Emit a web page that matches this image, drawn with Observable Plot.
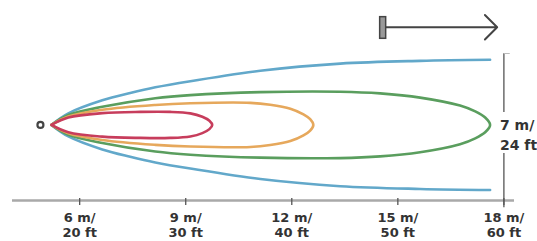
<!DOCTYPE html>
<html><head><meta charset="utf-8">
<script src="https://cdn.jsdelivr.net/npm/d3@7"></script>
<script src="https://cdn.jsdelivr.net/npm/@observablehq/plot@0.6"></script>
<style>body{margin:0;background:#fff}</style>
</head><body><div id="chart"></div>
<script>
// distance along the beam (m) and half-width of each beam outline (m)
const redX    = [5.20, 5.68, 6.64, 7.72, 8.56, 9.13, 9.47, 9.67, 9.75];
const redW    = [0, 0.35, 0.56, 0.62, 0.62, 0.55, 0.39, 0.20, 0];
const orangeX = [5.20, 5.68, 6.64, 8.14, 9.13, 10.83, 11.39, 11.96, 12.33, 12.52, 12.61];
const orangeW = [0, 0.40, 0.72, 0.95, 1.03, 1.05, 0.96, 0.77, 0.50, 0.27, 0];
const greenX  = [5.20, 5.68, 6.64, 8.14, 9.13, 11.11, 13.37, 14.50, 15.63, 16.76, 17.19, 17.47, 17.61];
const greenW  = [0, 0.47, 0.86, 1.27, 1.42, 1.56, 1.58, 1.50, 1.30, 0.92, 0.64, 0.35, 0];
const blueX   = [5.20, 5.68, 6.64, 7.43, 8.14, 9.13, 11.11, 13.37, 15.63, 17.61];
const blueW   = [0, 0.55, 1.17, 1.52, 1.79, 2.08, 2.58, 2.92, 3.05, 3.10];
const sourceX = 4.89;

const tickValues = [6, 9, 12, 15, 18];
const tickLabels = ["6 m/\n20 ft", "9 m/\n30 ft", "12 m/\n40 ft", "15 m/\n50 ft", "18 m/\n60 ft"];
const widthLabel = "7 m/\n24 ft";

const colors = {red: "#c73d5c", orange: "#e6a85c", green: "#5a9e5e", blue: "#62a8ca"};

function outline(xs, ws, name) {
  const up = xs.map((x, i) => ({beam: name, x, y: ws[i]}));
  const down = xs.slice(0, -1).map((x, i) => ({beam: name, x, y: -ws[i]})).reverse();
  return up.concat(down);
}
const closed = [
  ...outline(greenX, greenW, "green"),
  ...outline(orangeX, orangeW, "orange"),
  ...outline(redX, redW, "red")
];
const blue = [
  ...blueX.map((x, i) => ({side: "top", x, y: blueW[i]})),
  ...blueX.map((x, i) => ({side: "bottom", x, y: -blueW[i]}))
];

const yBottom = -3.6, yTop = 3.4;
const font = "DejaVu Sans, sans-serif";

const chart = Plot.plot({
  width: 537, height: 241,
  marginLeft: 12, marginRight: 23, marginTop: 53, marginBottom: 41,
  x: {domain: [4.1, 18.3], axis: null},
  y: {domain: [yBottom, yTop], axis: null},
  style: {background: "#fff", fontFamily: font},
  marks: [
    Plot.ruleY([yBottom], {stroke: "#a9a9a9", strokeWidth: 2.5}),
    Plot.ruleX(tickValues, {y1: yBottom + 0.1, y2: yBottom - 0.24, stroke: "#555", strokeWidth: 1.3}),
    Plot.text(tickValues, {x: d => d, text: (d, i) => tickLabels[i], frameAnchor: "bottom", dy: 10,
      lineAnchor: "top", lineHeight: 1.2, fontSize: 13, fontWeight: "bold", fill: "#333", fontFamily: font}),
    // width bracket
    Plot.ruleX([18], {y1: yTop, y2: 0.59, stroke: "#555", strokeWidth: 1.3}),
    Plot.ruleX([18], {y1: -1.36, y2: yBottom - 0.35, stroke: "#555", strokeWidth: 1.3}),
    Plot.ruleY([yTop], {x1: 18, x2: 18.18, stroke: "#bbb", strokeWidth: 1}),
    Plot.text([widthLabel], {x: 17.89, y: 0.40, text: d => d, textAnchor: "start", lineAnchor: "top",
      lineHeight: 1.4, fontSize: 14, fontWeight: "bold", fill: "#333", fontFamily: font}),
    // beams
    Plot.line(blue, {x: "x", y: "y", z: "side", stroke: colors.blue, strokeWidth: 2.6, curve: "catmull-rom"}),
    Plot.line(closed, {x: "x", y: "y", z: "beam", stroke: d => colors[d.beam], strokeWidth: 2.6, curve: "catmull-rom"}),
    Plot.dot([sourceX], {x: d => d, y: 0, r: 3, stroke: "#444", strokeWidth: 2.2, fill: "#fff"}),
    // direction arrow
    Plot.arrow([{x1: 14.67, x2: 17.81, y: 4.65}], {x1: "x1", x2: "x2", y1: "y", y2: "y", stroke: "#444",
      strokeWidth: 2, headLength: 13, headAngle: 90}),
    Plot.rect([{x1: 14.50, x2: 14.67, y1: 4.10, y2: 5.13}], {x1: "x1", x2: "x2", y1: "y1", y2: "y2",
      fill: "#999", stroke: "#444", strokeWidth: 1.5})
  ]
});
document.getElementById("chart").appendChild(chart);
</script>
</body></html>
